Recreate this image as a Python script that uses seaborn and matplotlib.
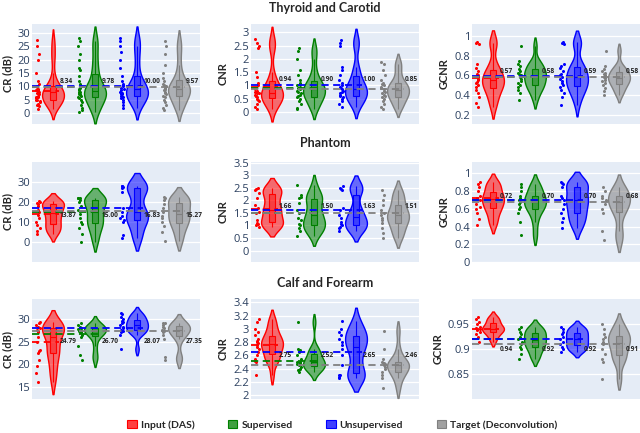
import numpy as np
import matplotlib
matplotlib.use("Agg")
import matplotlib.pyplot as plt
import seaborn as sns
from matplotlib.patches import Patch
from matplotlib.ticker import FuncFormatter

# ==========================================
# Data
# ==========================================
methods = ["Input (DAS)", "Supervised", "Unsupervised", "Target (Deconvolution)"]
colors = ["#FF0000", "#008000", "#0000FF", "#808080"]
datasets = ["Thyroid and Carotid", "Phantom", "Calf and Forearm"]
metrics = ["CR (dB)", "CNR", "GCNR"]

# Thyroid and Carotid
thyroid_cr = [
    [1.5, 2.5, 3, 3.5, 4, 4.5, 5, 5, 5.5, 6, 6, 6.5, 7, 7.5, 8, 8, 8.5, 8.5, 9, 9, 10, 11, 12, 15, 20, 22, 25, 27.5],
    [0.5, 1, 2, 3, 4, 5, 5.5, 6, 6.5, 7, 7, 7.5, 8, 8, 8.5, 9, 9.5, 10, 11, 12, 14, 16, 17, 20, 22, 25, 27, 28],
    [2, 3, 4, 5, 5.5, 6, 6.5, 7, 7, 7.5, 8, 8.5, 9, 9.5, 10, 10.5, 11, 12, 14, 17, 20, 23, 25, 27, 28],
    [1, 2, 3, 4, 5, 6, 6.5, 7, 7.5, 8, 8.5, 9, 9, 9.5, 10, 10.5, 11, 12, 13, 15, 18, 22, 25, 27],
]
thyroid_cnr = [
    [0.1, 0.2, 0.3, 0.4, 0.45, 0.5, 0.55, 0.6, 0.6, 0.65, 0.7, 0.7, 0.75, 0.8, 0.85, 0.9, 1.0, 1.1, 1.3, 1.5, 2.4, 2.5, 2.6, 2.75],
    [0.1, 0.15, 0.3, 0.4, 0.5, 0.55, 0.6, 0.65, 0.7, 0.75, 0.8, 0.85, 0.9, 0.95, 1.0, 1.05, 1.1, 1.2, 1.4, 1.6, 2.0, 2.3, 2.4],
    [0.2, 0.3, 0.4, 0.5, 0.55, 0.6, 0.65, 0.7, 0.75, 0.8, 0.85, 0.9, 0.95, 1.0, 1.1, 1.2, 1.4, 1.6, 1.7, 2.5, 2.6, 2.7],
    [0.1, 0.2, 0.3, 0.4, 0.5, 0.55, 0.6, 0.65, 0.7, 0.75, 0.8, 0.85, 0.9, 0.95, 1.0, 1.05, 1.1, 1.2, 1.4, 1.6, 1.8, 1.9],
]
thyroid_gcnr = [
    [0.28, 0.32, 0.38, 0.42, 0.45, 0.48, 0.5, 0.52, 0.53, 0.55, 0.56, 0.58, 0.6, 0.62, 0.65, 0.68, 0.72, 0.92, 0.93, 0.94],
    [0.35, 0.42, 0.45, 0.48, 0.5, 0.52, 0.54, 0.56, 0.58, 0.6, 0.62, 0.63, 0.65, 0.67, 0.7, 0.72, 0.75, 0.9],
    [0.3, 0.38, 0.42, 0.45, 0.48, 0.5, 0.52, 0.54, 0.56, 0.58, 0.6, 0.62, 0.65, 0.68, 0.7, 0.72, 0.92, 0.93, 0.94],
    [0.4, 0.44, 0.47, 0.5, 0.52, 0.54, 0.55, 0.57, 0.58, 0.6, 0.61, 0.63, 0.65, 0.67, 0.7, 0.85],
]

# Phantom
phantom_cr = [
    [4, 5.5, 7, 8.5, 10, 12, 13.5, 15, 16, 18, 19, 19.5, 20, 20.5],
    [0, 4, 7, 9, 10, 12, 14, 16, 18, 20, 21, 22, 22, 22],
    [2, 3.5, 10, 11, 12, 13, 15, 17, 25, 27, 27.5, 28, 28],
    [0.5, 5, 8, 10, 12, 13, 15, 17, 19, 21, 22, 22.5],
]
phantom_cnr = [
    [0.95, 1.0, 1.05, 1.1, 1.2, 1.5, 1.55, 1.7, 1.8, 2.1, 2.3, 2.4, 2.45, 2.5],
    [0.6, 0.8, 0.9, 1.0, 1.05, 1.2, 1.3, 1.5, 1.6, 1.9, 2.1, 2.15, 2.2, 2.6],
    [0.8, 0.9, 0.95, 1.0, 1.05, 1.15, 1.3, 1.4, 1.6, 1.7, 2.4, 2.45, 2.5, 2.55],
    [0.5, 0.7, 0.9, 1.1, 1.2, 1.3, 1.4, 1.5, 1.6, 1.8, 2.0, 2.2, 2.4],
]
phantom_gcnr = [
    [0.42, 0.48, 0.55, 0.6, 0.62, 0.65, 0.7, 0.72, 0.72, 0.75, 0.8, 0.85, 0.88, 0.9],
    [0.3, 0.45, 0.55, 0.6, 0.62, 0.65, 0.68, 0.7, 0.72, 0.75, 0.8, 0.85, 0.88],
    [0.38, 0.45, 0.5, 0.55, 0.6, 0.65, 0.7, 0.72, 0.75, 0.85, 0.88, 0.89, 0.9],
    [0.25, 0.35, 0.55, 0.6, 0.65, 0.7, 0.72, 0.75, 0.8, 0.85],
]

# Calf and Forearm
calf_cr = [
    [16, 18, 19.5, 21, 22.5, 23, 23.2, 24.8, 26, 27, 27.3, 27.6, 28, 28.3, 28.6, 29, 29.3],
    [21, 22, 24, 26, 26.5, 27, 27.2, 27.4, 27.6, 27.8, 28, 28.3, 28.6, 29],
    [23.3, 26.5, 27, 27.3, 27.6, 28, 28.3, 28.6, 29, 29.3, 29.6, 30, 30.5, 31, 31.3],
    [21, 21.5, 25.5, 26.5, 27, 27.3, 27.6, 28, 28.3, 28.6, 29, 29.2],
]
calf_cnr = [
    [2.3, 2.5, 2.52, 2.55, 2.6, 2.65, 2.7, 2.72, 2.75, 2.78, 2.8, 2.82, 2.85, 2.9, 2.95, 3.0, 3.1, 3.15],
    [2.35, 2.38, 2.4, 2.42, 2.45, 2.47, 2.48, 2.5, 2.5, 2.55, 2.6, 2.65, 2.68, 2.7, 3.1],
    [2.25, 2.27, 2.3, 2.3, 2.45, 2.6, 2.7, 2.75, 2.8, 2.85, 2.9, 2.95, 3.0, 3.12],
    [2.1, 2.25, 2.3, 2.35, 2.4, 2.42, 2.45, 2.47, 2.48, 2.5, 2.55, 2.7, 2.97],
]
calf_gcnr = [
    [0.915, 0.925, 0.93, 0.935, 0.938, 0.94, 0.942, 0.945, 0.95, 0.955, 0.96, 0.965],
    [0.88, 0.89, 0.9, 0.905, 0.91, 0.915, 0.92, 0.925, 0.93, 0.935, 0.94, 0.945],
    [0.895, 0.9, 0.905, 0.91, 0.915, 0.92, 0.925, 0.93, 0.935, 0.94, 0.945],
    [0.84, 0.875, 0.88, 0.89, 0.9, 0.91, 0.915, 0.92, 0.925, 0.93, 0.94, 0.95],
]

# annotated means per panel (Input, Supervised, Unsupervised, Target)
thyroid_means = [[8.34, 9.78, 10.00, 9.57], [0.94, 0.90, 1.00, 0.85], [0.57, 0.58, 0.59, 0.58]]
phantom_means = [[13.87, 15.00, 16.83, 15.27], [1.66, 1.50, 1.63, 1.51], [0.72, 0.70, 0.70, 0.68]]
calf_means = [[24.79, 26.70, 28.07, 27.35], [2.75, 2.52, 2.65, 2.46], [0.94, 0.92, 0.92, 0.91]]

panels = [
    [thyroid_cr, thyroid_cnr, thyroid_gcnr],
    [phantom_cr, phantom_cnr, phantom_gcnr],
    [calf_cr, calf_cnr, calf_gcnr],
]
means = [thyroid_means, phantom_means, calf_means]

# ==========================================
# Layout
# ==========================================
ylims = [
    [(-4.2, 33.4), (-0.46, 3.32), (0.11, 1.12)],
    [(-10, 39.8), (-0.45, 3.52), (0, 1.128)],
    [(12.3, 34.4), (1.94, 3.45), (0.80, 1.0)],
]
yticks = [
    [np.arange(0, 31, 5), np.arange(0, 3.01, 0.5), np.arange(0.2, 1.01, 0.2)],
    [np.arange(0, 31, 10), np.arange(0, 3.51, 0.5), np.arange(0, 1.01, 0.2)],
    [np.arange(15, 31, 5), np.arange(2, 3.41, 0.2), [0.85, 0.9, 0.95]],
]
label_y = [[11.8, 1.22, 0.64], [13.0, 1.77, 0.744], [25.1, 2.59, 0.90]]

sns.set_style("darkgrid", {"axes.facecolor": "#E5ECF6", "grid.color": "white"})
plt.rcParams["font.family"] = ["Open Sans", "DejaVu Sans"]

W, H = 640, 433
col_x = [32, 251, 472]
row_y = [24, 162, 299]
pw, ph = 168, 100

fig = plt.figure(figsize=(6.4, 4.33), dpi=100)
np.random.seed(3)

fmt = FuncFormatter(lambda v, p: f"{v:g}")

for r in range(3):
    for c in range(3):
        ax = fig.add_axes([col_x[c] / W, 1 - (row_y[r] + ph) / H, pw / W, ph / H])
        groups = panels[r][c]
        for i, vals in enumerate(groups):
            col = colors[i]
            xs = np.full(len(vals), i)
            sns.violinplot(x=xs, y=vals, native_scale=True, orient="x", color=col,
                           width=0.52, inner=None, cut=1.5, bw_adjust=0.75, linewidth=1,
                           saturation=1, ax=ax)
            poly = ax.collections[-1]
            poly.set_facecolor(matplotlib.colors.to_rgba(col, 0.55))
            poly.set_edgecolor(col)
            sns.boxplot(x=xs, y=vals, native_scale=True, orient="x", color=col,
                        linecolor=col, width=0.15, showfliers=False, showcaps=False,
                        linewidth=0.8, saturation=1, ax=ax)
            ax.patches[-1].set_facecolor(matplotlib.colors.to_rgba(col, 0.4))
            sns.stripplot(x=np.full(len(vals), i - 0.36), y=vals, native_scale=True,
                          orient="x", color=col, size=2.2, jitter=0.05, linewidth=0,
                          ax=ax)
        for i, m in enumerate(means[r][c]):
            ax.plot([-0.5, i + 0.14], [m, m], ls="--", dashes=(4, 2.5), color=colors[i],
                    lw=1.3, zorder=5)
            ax.text(i + 0.15, label_y[r][c], f"{m:.2f}", fontsize=4.8, fontweight="bold",
                    ha="left", va="center", color="#222222", zorder=6)

        ax.set_xlim(-0.5, 3.5)
        ax.set_ylim(*ylims[r][c])
        ax.set_yticks(yticks[r][c])
        ax.yaxis.set_major_formatter(fmt)
        ax.set_xticks([])
        ax.grid(axis="x", visible=False)
        ax.grid(axis="y", color="white", lw=0.9)
        ax.tick_params(axis="y", length=0, labelsize=8, labelcolor="#2a3f5f", pad=1.5)
        for s in ax.spines.values():
            s.set_visible(False)
        ax.set_ylabel(metrics[c], fontsize=8, fontweight="bold", family=["Lato", "DejaVu Sans"],
                      labelpad=3)
        ax.set_xlabel("")

title_y = [8, 143, 283]
for r, name in enumerate(datasets):
    fig.text(0.508, 1 - title_y[r] / H, name, ha="center", va="center", fontsize=9,
             fontweight="bold", family=["Lato", "DejaVu Sans"])

handles = [Patch(facecolor=matplotlib.colors.to_rgba(col, 0.75), edgecolor=col, lw=0.8)
           for col in colors]
fig.legend(handles, methods, loc="center", bbox_to_anchor=(0.535, 0.019), ncol=4,
           frameon=False, columnspacing=3.2, handlelength=0.9, handleheight=0.9,
           handletextpad=0.4, prop={"family": ["Lato", "DejaVu Sans"], "weight": "bold",
                                    "size": 7.5})

fig.savefig("out.png", dpi=100)
plt.close(fig)
